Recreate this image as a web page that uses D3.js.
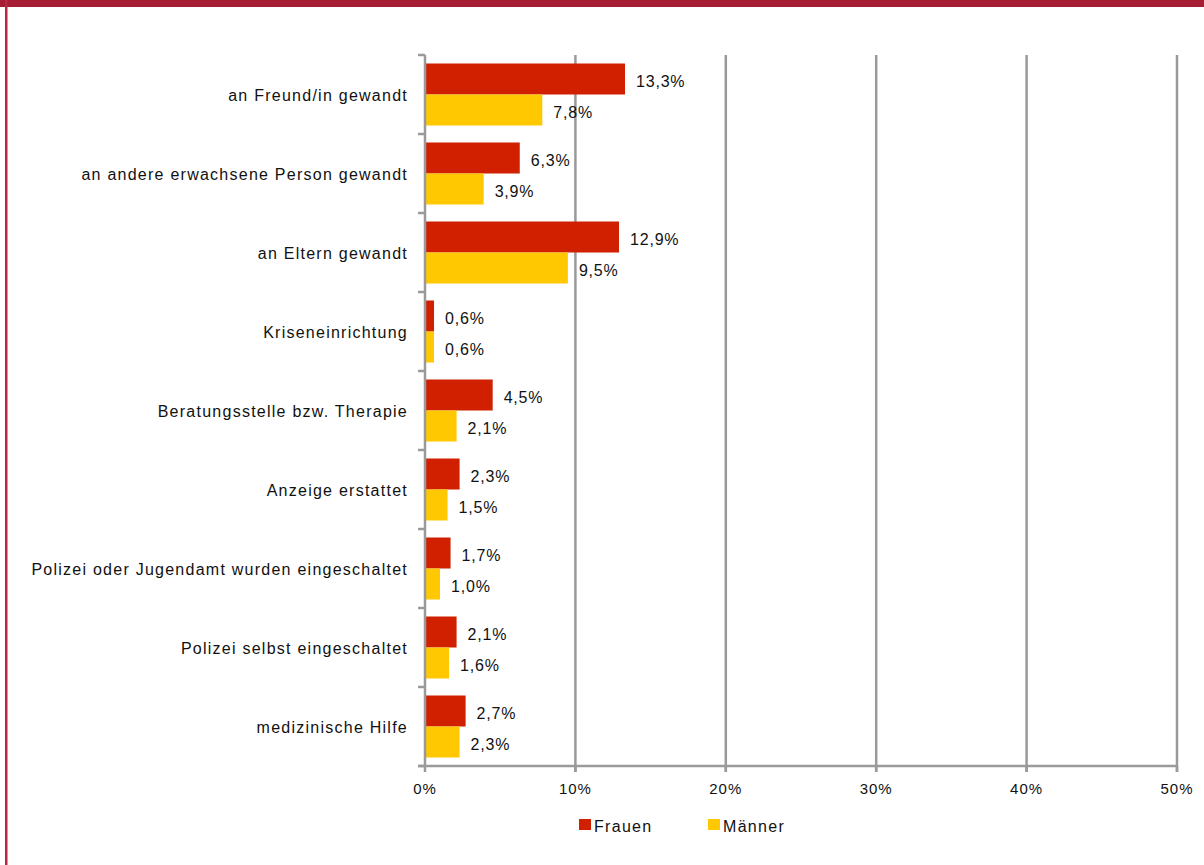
<!DOCTYPE html>
<html><head><meta charset="utf-8">
<script src="https://cdn.jsdelivr.net/npm/d3@7"></script>
<style>body{margin:0;background:#fff;}svg{display:block;font-family:"Liberation Sans",Arial,sans-serif;}</style>
</head><body>
<svg id="c" width="1204" height="865"></svg>
<script>
const categories = ["an Freund/in gewandt","an andere erwachsene Person gewandt","an Eltern gewandt","Kriseneinrichtung","Beratungsstelle bzw. Therapie","Anzeige erstattet","Polizei oder Jugendamt wurden eingeschaltet","Polizei selbst eingeschaltet","medizinische Hilfe"];
const frauen = [13.3,6.3,12.9,0.6,4.5,2.3,1.7,2.1,2.7];
const maenner = [7.8,3.9,9.5,0.6,2.1,1.5,1.0,1.6,2.3];
const seriesNames = ["Frauen","Männer"];
const colors = ["#D02000","#FFC800"];
const xTicks = [0,10,20,30,40,50];

const svg = d3.select("#c");
// frame
svg.append("rect").attr("x",0).attr("y",0).attr("width",1204).attr("height",7).attr("fill","#A51C34");
svg.append("rect").attr("x",5).attr("y",0).attr("width",2.5).attr("height",865).attr("fill","#B52840");

const x = d3.scaleLinear().domain([0,50]).range([425,1177]);
const y = d3.scaleBand().domain(categories).range([55,766]).paddingInner(17/79).paddingOuter(8.5/79);
const ys = d3.scaleBand().domain(seriesNames).range([0,y.bandwidth()]);

// gridlines
svg.append("g").selectAll("line").data(xTicks.slice(1)).join("line")
  .attr("x1",d=>x(d)).attr("x2",d=>x(d)).attr("y1",55).attr("y2",772)
  .attr("stroke","#9a9a9a").attr("stroke-width",2.5);

const data = categories.map((c,i)=>({c, vals:[frauen[i],maenner[i]]}));
const g = svg.append("g");
data.forEach(d=>{
  d.vals.forEach((v,j)=>{
    const yy = y(d.c)+ys(seriesNames[j]);
    g.append("rect").attr("x",x(0)).attr("y",yy).attr("width",x(v)-x(0)).attr("height",ys.bandwidth()).attr("fill",colors[j]);
    g.append("text").attr("x",x(v)+11).attr("y",yy+ys.bandwidth()/2+2).attr("dy","0.35em")
      .attr("font-size",16).attr("letter-spacing",0.8).attr("fill","#111").text(v.toFixed(1).replace(".",",")+"%");
  });
});

// y axis
const yAxis = svg.append("g").attr("transform","translate(425,0)");
yAxis.append("line").attr("x1",0).attr("x2",0).attr("y1",55).attr("y2",766).attr("stroke","#9a9a9a").attr("stroke-width",2.5);
const bounds = d3.range(categories.length+1).map(i=>55+i*(711/categories.length));
yAxis.selectAll("line.t").data(bounds).join("line").attr("class","t")
  .attr("x1",-7).attr("x2",0).attr("y1",d=>d).attr("y2",d=>d).attr("stroke","#9a9a9a").attr("stroke-width",2.5);
svg.append("g").selectAll("text").data(categories).join("text")
  .attr("x",408).attr("y",d=>y(d)+y.bandwidth()/2+1).attr("dy","0.35em").attr("text-anchor","end")
  .attr("font-size",16).attr("letter-spacing",1.25).attr("fill","#111").text(d=>d);

// x axis
const xAxis = svg.append("g").attr("transform","translate(0,766)");
xAxis.append("line").attr("x1",418).attr("x2",1177).attr("y1",0).attr("y2",0).attr("stroke","#9a9a9a").attr("stroke-width",2.5);
xAxis.selectAll("line.t").data(xTicks).join("line").attr("class","t")
  .attr("x1",d=>x(d)).attr("x2",d=>x(d)).attr("y1",0).attr("y2",6).attr("stroke","#9a9a9a").attr("stroke-width",2.5);
xAxis.selectAll("text").data(xTicks).join("text")
  .attr("x",d=>x(d)).attr("y",28).attr("text-anchor","middle").attr("font-size",15).attr("letter-spacing",1).attr("fill","#111").text(d=>d+"%");

// legend
const legX = [579,708];
seriesNames.forEach((s,i)=>{
  svg.append("rect").attr("x",legX[i]).attr("y",819).attr("width",12).attr("height",11).attr("fill",colors[i]);
  svg.append("text").attr("x",legX[i]+15).attr("y",826).attr("dy","0.35em").attr("font-size",16).attr("letter-spacing",1.3).attr("fill","#111").text(s);
});
</script>
</body></html>
